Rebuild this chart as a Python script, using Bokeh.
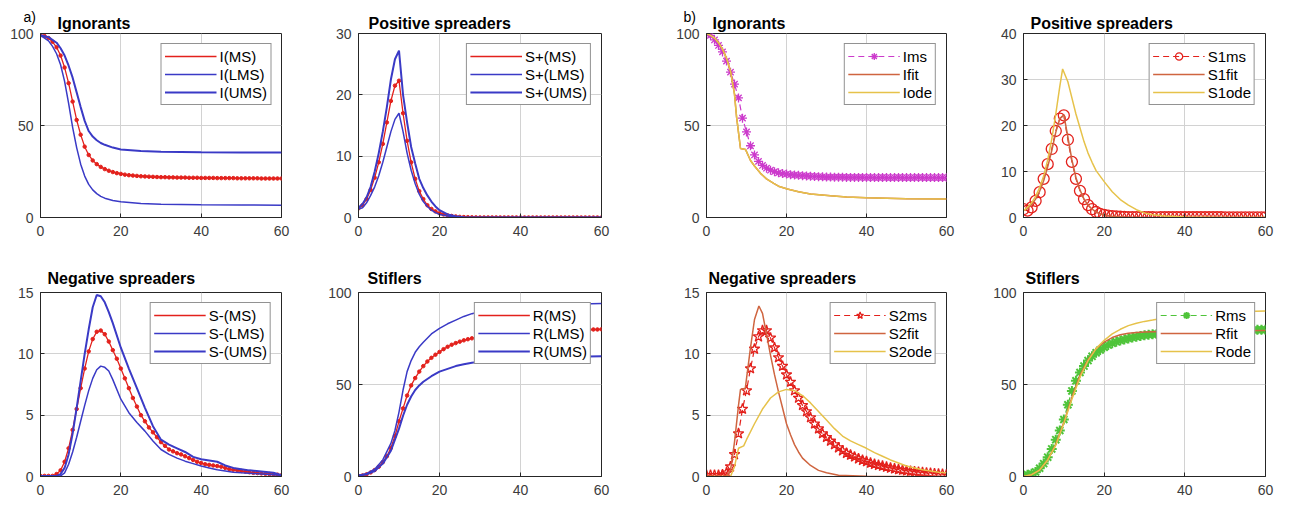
from bokeh.plotting import figure
from bokeh.layouts import row, column
from bokeh.models import Range1d, FixedTicker, Title
from bokeh.embed import file_html
from bokeh.resources import INLINE

# ---------------- data ----------------
t_full = list(range(61))

# (a) Ignorants
I_MS = [99, 98.6, 97.5, 95.5, 92.5, 88, 81.5, 73, 63, 53,
        45, 38.5, 34, 31, 29, 27.5, 26.3, 25.4, 24.7, 24.1,
        23.7, 23.3, 23.0, 22.8, 22.6, 22.4, 22.3, 22.2, 22.1, 22.0,
        21.9, 21.9, 21.8, 21.8, 21.7, 21.7, 21.7, 21.6, 21.6, 21.6,
        21.5, 21.5, 21.5, 21.5, 21.4, 21.4, 21.4, 21.4, 21.4, 21.3,
        21.3, 21.3, 21.3, 21.3, 21.3, 21.2, 21.2, 21.2, 21.2, 21.2, 21.2]
I_LMS_t = [0, 2, 3, 4, 5, 6, 7, 8, 9, 10, 11, 12, 13, 14, 15, 16, 18, 20, 25, 30, 40, 50, 60]
I_LMS = [99, 96, 93, 89, 83, 74, 62, 49, 38, 29, 22.5, 18, 15, 13, 11.5, 10.5, 9.2, 8.5, 7.6, 7.2, 6.9, 6.8, 6.7]
I_UMS_t = [0, 2, 4, 5, 6, 7, 8, 9, 10, 11, 12, 13, 14, 15, 16, 18, 20, 25, 30, 40, 50, 60]
I_UMS = [99, 98, 95, 92, 88, 82.5, 76, 68, 60, 52.5, 47, 44, 42, 40.5, 39.5, 38, 37, 36.2, 35.8, 35.4, 35.3, 35.3]

# (a) Positive spreaders
SP_MS = [1.5, 2.0, 3.0, 4.5, 6.5, 9.0, 12.0, 15.5, 19.0, 21.5,
         22.3, 17.0, 12.5, 9.0, 6.3, 4.3, 3.0, 2.0, 1.4, 1.0,
         0.7, 0.5, 0.35, 0.25, 0.17, 0.1, 0.07, 0.05, 0.03, 0.02,
         0.01, 0.01, 0.01, 0.01, 0.01, 0.01, 0.01, 0.01, 0.01, 0.01,
         0, 0, 0, 0, 0, 0, 0, 0, 0, 0,
         0, 0, 0, 0, 0, 0, 0, 0, 0, 0, 0]
SP_LMS_t = [0, 1, 2, 3, 4, 5, 6, 7, 8, 9, 10, 11, 12, 13, 14, 15, 16, 17, 18, 19, 20, 22, 24, 26, 30, 60]
SP_LMS = [1.4, 1.6, 2.4, 3.6, 5.0, 6.8, 9.0, 11.5, 14.0, 16.0, 17.0, 14.0, 10.5, 7.7, 5.5, 3.8, 2.6, 1.8, 1.2, 0.8,
          0.5, 0.25, 0.1, 0.0, 0, 0]
SP_UMS_t = [0, 1, 2, 3, 4, 5, 6, 7, 8, 9, 10, 11, 12, 13, 14, 15, 16, 17, 18, 19, 20, 22, 24, 26, 28, 60]
SP_UMS = [1.6, 2.2, 3.3, 5.0, 7.5, 10.5, 14.0, 18.0, 22.5, 25.8, 27.2, 20.0, 15.5, 11.5, 8.8, 6.3, 4.8, 3.6, 2.6, 1.8,
          1.2, 0.5, 0.2, 0.05, 0, 0]

# (a) Negative spreaders
SN_MS = [0.05, 0.05, 0.05, 0.05, 0.2, 0.5, 1.2, 2.3, 3.8, 5.5,
         7.2, 8.8, 10.2, 11.2, 11.8, 11.9, 11.6, 11.0, 10.3, 9.6,
         8.8, 8.0, 7.2, 6.4, 5.7, 5.0, 4.5, 4.0, 3.6, 3.2,
         2.8, 2.5, 2.2, 2.05, 1.9, 1.8, 1.65, 1.5, 1.35, 1.2,
         1.1, 1.0, 0.95, 0.9, 0.85, 0.8, 0.7, 0.6, 0.55, 0.5,
         0.45, 0.4, 0.35, 0.3, 0.28, 0.25, 0.22, 0.2, 0.18, 0.15, 0.1]
SN_LMS_t = [0, 5, 6, 7, 8, 9, 10, 11, 12, 13, 14, 15, 16, 17, 18, 20, 22, 24, 26, 28,
            30, 32, 34, 36, 38, 40, 42, 44, 46, 48, 50, 55, 60]
SN_LMS = [0.05, 0.05, 0.3, 1.0, 2.0, 3.2, 4.5, 5.8, 7.0, 8.0, 8.7, 9.0, 8.9, 8.6, 7.9, 6.3, 5.2, 4.4, 3.7, 2.9,
          2.2, 1.8, 1.5, 1.25, 1.05, 0.85, 0.7, 0.55, 0.45, 0.35, 0.3, 0.2, 0.1]
SN_UMS_t = [0, 4, 5, 6, 7, 8, 9, 10, 11, 12, 13, 14, 15, 16, 17, 18, 20, 22, 24, 26,
            28, 30, 32, 34, 36, 38, 40, 42, 44, 46, 48, 50, 52, 55, 58, 60]
SN_UMS = [0.05, 0.05, 0.2, 0.7, 1.8, 3.5, 5.6, 7.8, 10, 12, 13.8, 14.8, 14.7, 14.2, 13.4, 12.5, 10.5, 8.8, 7.2, 5.6,
          4.1, 3.0, 2.6, 2.3, 2.0, 1.6, 1.4, 1.3, 1.2, 0.9, 0.7, 0.6, 0.5, 0.4, 0.3, 0.1]

# (a) Stiflers
R_MS = [0.3, 0.6, 1.2, 2.2, 3.5, 5.3, 7.8, 11, 15.5, 22,
        30, 37, 44, 49.5, 53.5, 57, 60, 62.5, 64.5, 66.2,
        67.7, 69.2, 70.5, 71.6, 72.5, 73.3, 74, 74.6, 75.1, 75.6,
        76, 76.4, 76.7, 77, 77.3, 77.5, 77.7, 77.9, 78.1, 78.3,
        78.4, 78.6, 78.7, 78.8, 78.9, 79, 79.1, 79.2, 79.3, 79.4,
        79.5, 79.5, 79.6, 79.6, 79.7, 79.7, 79.8, 79.8, 79.9, 79.9, 80]
R_LMS_t = [0, 2, 4, 6, 8, 9, 10, 11, 12, 13, 14, 15, 16, 18, 20, 22, 24, 26, 28, 30, 35, 40, 50, 60]
R_LMS = [0.5, 1.5, 4, 9, 18, 25, 35, 47, 57, 63, 67.5, 70.5, 73, 77.5, 80.5, 83, 85, 87, 88.5, 89.5,
         91.5, 92.5, 93.5, 94]
R_UMS_t = [0, 2, 4, 6, 8, 10, 11, 12, 13, 14, 15, 16, 18, 20, 22, 24, 26, 28, 30, 35, 40, 50, 60]
R_UMS = [0.5, 1.2, 3, 7, 14, 26, 33, 39, 43.5, 47, 49.5, 51.5, 54.5, 57, 58.5, 60, 61, 61.8, 62.3, 63.5,
         64.3, 65, 65.3]

# (b) Ignorants
Ims = [99.5, 99, 96.5, 93.5, 90, 85, 79, 72.5, 65, 54,
       46.5, 39, 34, 30.5, 28.3, 26.8, 25.7, 24.9, 24.3, 23.9,
       23.6, 23.3, 23.1, 22.9, 22.7, 22.6, 22.4, 22.3, 22.2, 22.1,
       22.0, 22.0, 21.9, 21.9, 21.9, 21.8, 21.8, 21.8, 21.8, 21.8,
       21.7, 21.8, 21.7, 21.7, 21.8, 21.7, 21.7, 21.7, 21.8, 21.7,
       21.7, 21.7, 21.7, 21.8, 21.7, 21.7, 21.7, 21.7, 21.7, 21.7, 21.7]
Ifit_t = [0, 1, 2, 3, 4, 5, 6, 7, 7.5, 8.5, 9.75, 11, 12, 13.5, 15, 16.8, 18, 20.2, 23, 26, 31, 35, 40, 50, 60]
Ifit = [100, 99, 97.5, 95, 91.5, 86.5, 79.5, 67, 55, 37.5, 37, 31, 28, 24, 21, 18.5, 17, 15.5, 14, 12.8,
        11.8, 11.2, 10.7, 10.2, 10]
Iode_t = [0, 1, 2, 3, 4, 5, 6, 7, 7.5, 8.5, 9.75, 11, 12, 13.5, 15, 16.8, 18, 20.2, 23, 26, 31, 35, 40, 50, 60]
Iode = [100, 99, 97.5, 95, 91.5, 86.5, 79.5, 67, 55, 37.5, 37, 31, 28, 24, 21, 18.5, 17, 15.5, 14, 12.8,
        11.8, 11.2, 10.7, 10.2, 10]

# (b) Positive spreaders
S1ms = [1.8, 1.5, 2.2, 3.6, 5.5, 8.4, 11.6, 14.9, 18.8, 21.5,
        22.2, 16.9, 12.1, 8.4, 5.8, 4.0, 2.7, 1.8, 1.2, 0.8,
        0.55, 0.4, 0.3, 0.22, 0.16, 0.12, 0.1, 0.08, 0.07, 0.06,
        0.05, 0.05, 0.05, 0.05, 0.05, 0.05, 0.05, 0.05, 0.05, 0.05,
        0.05, 0.05, 0.05, 0.05, 0.05, 0.05, 0.05, 0.05, 0.05, 0.05,
        0.04, 0.04, 0.04, 0.04, 0.04, 0.04, 0.04, 0.04, 0.04, 0.04, 0.04]
S1fit_t = [0, 1, 2, 3, 4, 5, 6, 7, 8, 9, 10, 11, 12, 13, 14, 15, 16, 17, 18, 19, 20, 22, 25, 30, 60]
S1fit = [1.5, 2.0, 2.8, 4.0, 5.7, 8.0, 11.0, 14.5, 18.5, 21.5, 22.3, 17.5, 12.5, 8.7, 6.0, 4.0, 2.7, 1.8, 1.2, 0.8,
         0.5, 0.25, 0.1, 0.02, 0]
S1ode_t = [0, 1, 2, 3, 4, 5, 6, 7, 8, 9, 9.7, 11, 12, 13, 14, 15, 16, 17, 18, 20,
           22, 24, 26, 28, 30, 32, 35, 40, 50, 60]
S1ode = [1.5, 2.2, 3.2, 4.6, 6.5, 9, 12.5, 17, 22.5, 28.5, 32.3, 29.5, 26, 22.5, 19.5, 16.5, 14, 12, 10.2, 7.8,
         5.6, 3.9, 2.7, 1.7, 1.0, 0.6, 0.3, 0.1, 0.02, 0]

# (b) Negative spreaders
S2ms = [0.1, 0.1, 0.1, 0.1, 0.15, 0.3, 0.8, 1.8, 3.5, 5.5,
        7.0, 8.8, 10.4, 11.4, 11.9, 11.9, 11.3, 10.5, 9.7, 9.0,
        8.3, 7.7, 7.0, 6.4, 5.8, 5.3, 4.8, 4.3, 3.9, 3.5,
        3.2, 2.9, 2.6, 2.35, 2.1, 1.9, 1.75, 1.6, 1.45, 1.33,
        1.22, 1.1, 1.0, 0.92, 0.85, 0.77, 0.7, 0.63, 0.57, 0.52,
        0.47, 0.43, 0.39, 0.35, 0.32, 0.29, 0.26, 0.23, 0.2, 0.18, 0.15]
S2fit_t = [0, 5, 6, 7, 8, 8.5, 9.7, 11, 12, 13.1, 14, 15, 16, 17, 18, 19, 20, 21, 22, 23,
           24, 26, 28, 30, 33, 40, 60]
S2fit = [0, 0, 0.5, 2.8, 5.8, 7.1, 7.2, 10.5, 12.8, 13.9, 13.3, 11.6, 9.9, 8.3, 6.9, 5.6, 4.3, 3.4, 2.6, 2.0,
         1.5, 0.9, 0.5, 0.3, 0.1, 0.02, 0]
S2ode_t = [0, 6, 7, 8, 9.3, 10, 12, 14, 16, 18, 20, 22, 24, 26, 28, 30, 32, 34, 36, 38,
           40, 42, 44, 46, 48, 50, 52, 54, 56, 58, 60]
S2ode = [0, 0, 0.8, 2.3, 2.5, 3.0, 4.3, 5.5, 6.4, 6.9, 7.1, 7.0, 6.6, 6.0, 5.3, 4.6, 3.9, 3.3, 2.9, 2.6,
         2.3, 1.95, 1.65, 1.35, 1.1, 0.85, 0.7, 0.55, 0.45, 0.35, 0.3]

# (b) Stiflers
Rms = [0.5, 1.0, 1.5, 2.5, 4.5, 7.0, 10.5, 15.0, 20.0, 25.0,
       31.0, 39.0, 46.5, 52.0, 56.5, 60.0, 63.0, 65.3, 67.2, 68.8,
       70.2, 71.4, 72.4, 73.2, 73.9, 74.5, 75.0, 75.5, 75.9, 76.3,
       76.7, 77.0, 77.3, 77.5, 77.7, 77.9, 78.1, 78.2, 78.3, 78.4,
       78.5, 78.6, 78.7, 78.8, 78.9, 79.0, 79.0, 79.1, 79.2, 79.2,
       79.3, 79.3, 79.4, 79.4, 79.5, 79.5, 79.6, 79.6, 79.7, 79.7, 79.8]
Rfit_t = [0, 2, 4, 6, 8, 10, 12, 14, 16, 18, 20, 22, 24, 26, 28, 30, 35, 40, 50, 60]
Rfit = [0, 1, 3.5, 9, 17.5, 29.5, 43, 55, 63.5, 69.5, 73, 75.5, 77, 77.8, 78.2, 78.5, 78.8, 79, 79.2, 79.3]
Rode_t = [0, 2, 4, 6, 8, 10, 12, 14, 16, 18, 20, 22, 24, 26, 28, 30, 32, 35, 40, 45, 50, 55, 60]
Rode = [0, 1, 3.5, 9, 17, 29, 42, 54, 63, 69.5, 74, 77.5, 80, 82, 83.3, 84.3, 85, 86.2, 87.5, 88.5,
        89.2, 89.7, 90]

x_ticks = [0, 20, 40, 60]

# ---------------- styling ----------------
FONT = "Liberation Sans"
RED = "#e3211c"
BLUE = "#3a3ac6"
MAG = "#cc3acc"
FIT = "#cf6540"
ODE = "#e6c24a"
GRN = "#4fc43a"
DARK = "#262626"


def style_title(t, size, offset, standoff, bold):
    t.align = "left"
    t.offset = offset
    t.standoff = standoff
    t.text_font = FONT
    t.text_font_size = size
    t.text_font_style = "bold" if bold else "normal"
    t.text_color = "black"


def make_fig(title, ymax, yticks, width, height, lb, rb, tb, bb, toff, tstand, panel_tag=None, tag_off=0):
    p = figure(width=width, height=height, output_backend="svg", toolbar_location=None, tools="",
               x_range=Range1d(0, 60), y_range=Range1d(0, ymax),
               min_border_left=lb, min_border_right=rb, min_border_top=tb, min_border_bottom=bb)
    if panel_tag is None:
        p.title.text = title
        style_title(p.title, "16px", toff, tstand, True)
    else:
        # panel tag ("a)" / "b)") is the outer title, the subplot title sits just above the frame
        p.title.text = panel_tag
        style_title(p.title, "14px", tag_off, -29, False)
        inner = Title(text=title)
        style_title(inner, "16px", toff, tstand, True)
        p.add_layout(inner, "above")
    p.xaxis.ticker = FixedTicker(ticks=x_ticks)
    p.yaxis.ticker = FixedTicker(ticks=yticks)
    for ax in (p.xaxis[0], p.yaxis[0]):
        ax.major_label_text_font = FONT
        ax.major_label_text_font_size = "14px"
        ax.major_label_text_color = "#3c3c3c"
        ax.major_tick_in = 4
        ax.major_tick_out = 0
        ax.minor_tick_in = 0
        ax.minor_tick_out = 0
        ax.major_tick_line_color = DARK
        ax.axis_line_color = DARK
    p.xaxis.major_label_standoff = 8
    p.yaxis.major_label_standoff = 7
    p.xgrid.ticker = FixedTicker(ticks=x_ticks)
    p.ygrid.ticker = FixedTicker(ticks=yticks)
    p.xgrid.grid_line_color = "#d2d2d2"
    p.ygrid.grid_line_color = "#d2d2d2"
    p.outline_line_color = DARK
    p.outline_line_width = 1
    p.outline_line_alpha = 1
    return p


def style_legend(p):
    lg = p.legend[0]
    lg.location = "top_right"
    lg.margin = 10
    lg.padding = 3
    lg.spacing = 0
    lg.glyph_width = 52
    lg.glyph_height = 18
    lg.label_height = 18
    lg.label_standoff = 3
    lg.label_text_font = FONT
    lg.label_text_font_size = "15px"
    lg.label_text_color = "black"
    lg.border_line_color = DARK
    lg.border_line_width = 1
    lg.background_fill_color = "white"
    lg.background_fill_alpha = 1


# column geometry: (width, left, right); row geometry: (height, top, bottom)
C1 = (318, 40, 37)
C2 = (318, 40, 35)
C3 = (347, 70, 37)
C4 = (298, 40, 16)
R1 = (249, 33, 32)
R2 = (255, 43, 28)


def fig_at(col, rw, title, ymax, yticks, toff, tstand, panel_tag=None, tag_off=0):
    return make_fig(title, ymax, yticks, col[0], rw[0], col[1], col[2], rw[1], rw[2], toff, tstand,
                    panel_tag, tag_off)


def red_ms(p, y, label):
    p.line(t_full, y, color=RED, line_width=1.3, legend_label=label)
    p.scatter(t_full, y, marker="circle", size=3.5, color=RED)


# ---------------- (a) Ignorants ----------------
p1 = fig_at(C1, R1, "Ignorants", 100, [0, 50, 100], 17, 4, panel_tag="a)", tag_off=-17)
red_ms(p1, I_MS, "I(MS)")
p1.line(I_LMS_t, I_LMS, color=BLUE, line_width=1.5, legend_label="I(LMS)")
p1.line(I_UMS_t, I_UMS, color=BLUE, line_width=2, legend_label="I(UMS)")
style_legend(p1)

# ---------------- (a) Positive spreaders ----------------
p2 = fig_at(C2, R1, "Positive spreaders", 30, [0, 10, 20, 30], 10, 4)
red_ms(p2, SP_MS, "S+(MS)")
p2.line(SP_LMS_t, SP_LMS, color=BLUE, line_width=1.5, legend_label="S+(LMS)")
p2.line(SP_UMS_t, SP_UMS, color=BLUE, line_width=2, legend_label="S+(UMS)")
style_legend(p2)

# ---------------- (b) Ignorants ----------------
p3 = fig_at(C3, R1, "Ignorants", 100, [0, 50, 100], 6, 4, panel_tag="b)", tag_off=-23)
p3.line(t_full, Ims, color=MAG, line_width=1.2, line_dash="6 4", legend_label="Ims")
p3.scatter(t_full, Ims, marker="asterisk", size=9, line_color=MAG, line_width=1.3, legend_label="Ims")
p3.line(Ifit_t, Ifit, color=FIT, line_width=1.5, legend_label="Ifit")
p3.line(Iode_t, Iode, color=ODE, line_width=1.5, legend_label="Iode")
style_legend(p3)

# ---------------- (b) Positive spreaders ----------------
p4 = fig_at(C4, R1, "Positive spreaders", 40, [0, 10, 20, 30, 40], 7, 4)
p4.line(t_full, S1ms, color=RED, line_width=1.2, line_dash="6 4", legend_label="S1ms")
p4.scatter(t_full, S1ms, marker="circle", size=11, fill_color=None, line_color=RED, line_width=1.3,
           legend_label="S1ms")
p4.line(S1fit_t, S1fit, color=FIT, line_width=1.5, legend_label="S1fit")
p4.line(S1ode_t, S1ode, color=ODE, line_width=1.5, legend_label="S1ode")
style_legend(p4)

# ---------------- (a) Negative spreaders ----------------
p5 = fig_at(C1, R2, "Negative spreaders", 15, [0, 5, 10, 15], 7, 12)
red_ms(p5, SN_MS, "S-(MS)")
p5.line(SN_LMS_t, SN_LMS, color=BLUE, line_width=1.5, legend_label="S-(LMS)")
p5.line(SN_UMS_t, SN_UMS, color=BLUE, line_width=2, legend_label="S-(UMS)")
style_legend(p5)

# ---------------- (a) Stiflers ----------------
p6 = fig_at(C2, R2, "Stiflers", 100, [0, 50, 100], 9, 12)
red_ms(p6, R_MS, "R(MS)")
p6.line(R_LMS_t, R_LMS, color=BLUE, line_width=1.5, legend_label="R(LMS)")
p6.line(R_UMS_t, R_UMS, color=BLUE, line_width=2, legend_label="R(UMS)")
style_legend(p6)

# ---------------- (b) Negative spreaders ----------------
p7 = fig_at(C3, R2, "Negative spreaders", 15, [0, 5, 10, 15], 2, 12)
p7.line(t_full, S2ms, color=RED, line_width=1.2, line_dash="6 4", legend_label="S2ms")
p7.scatter(t_full, S2ms, marker="star", size=11, fill_color=None, line_color=RED, line_width=1.3,
           legend_label="S2ms")
p7.line(S2fit_t, S2fit, color=FIT, line_width=1.5, legend_label="S2fit")
p7.line(S2ode_t, S2ode, color=ODE, line_width=1.5, legend_label="S2ode")
style_legend(p7)

# ---------------- (b) Stiflers ----------------
p8 = fig_at(C4, R2, "Stiflers", 100, [0, 50, 100], 2, 12)
p8.line(t_full, Rms, color=GRN, line_width=1.2, line_dash="6 4", legend_label="Rms")
p8.scatter(t_full, Rms, marker="asterisk", size=10, line_color=GRN, line_width=2, legend_label="Rms")
p8.line(Rfit_t, Rfit, color=FIT, line_width=1.5, legend_label="Rfit")
p8.line(Rode_t, Rode, color=ODE, line_width=1.5, legend_label="Rode")
style_legend(p8)

layout = column(row(p1, p2, p3, p4), row(p5, p6, p7, p8))

open("out.html", "w").write(file_html(layout, INLINE))
